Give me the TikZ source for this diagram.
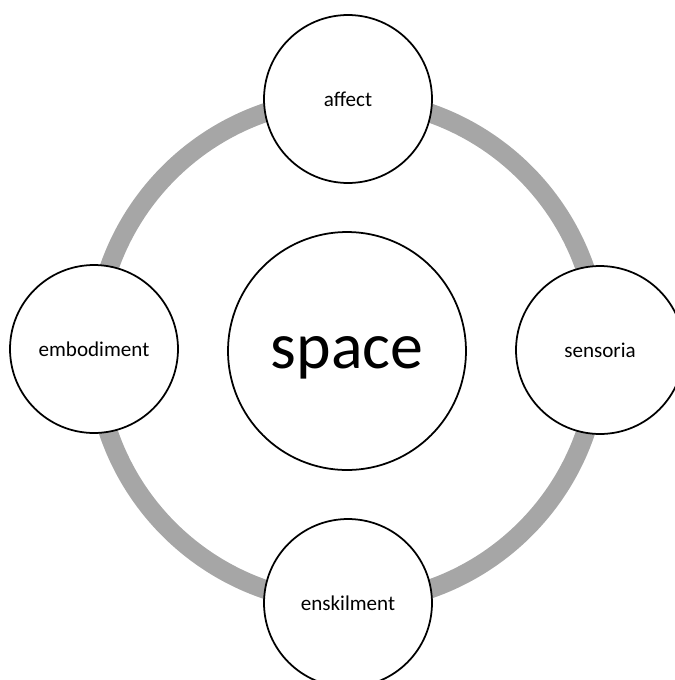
\documentclass[tikz,border=0pt]{standalone}
\usepackage{fontspec}
\setmainfont{Carlito}
\begin{document}
\begin{tikzpicture}[x=0.02cm, y=-0.02cm,
  hub/.style={circle, draw=black, line width=1pt, fill=white,
              minimum size=4.76cm, inner sep=0pt,
              text height=20.4pt, text depth=0pt,
              font=\fontsize{37.5}{45}\selectfont},
  sat/.style={circle, draw=black, line width=1pt, fill=white,
              minimum size=3.36cm, inner sep=0pt, align=center,
              font=\fontsize{12}{14}\selectfont},
  ring/.style={draw=black!35, line width=10.8pt}
]
\useasboundingbox (0,0) rectangle (675,680);
\coordinate (mid) at (347,351);
\draw[ring] (mid) circle [radius=5.04cm];
\node[hub] (space) at (347,351) {space};
\node[sat] (affect) at (348,99) {affect};
\node[sat] (sensoria) at (600,350) {sensoria};
\node[sat] (enskilment) at (348,603) {enskilment};
\node[sat] (embodiment) at (94,349) {embodiment};
\end{tikzpicture}
\end{document}
